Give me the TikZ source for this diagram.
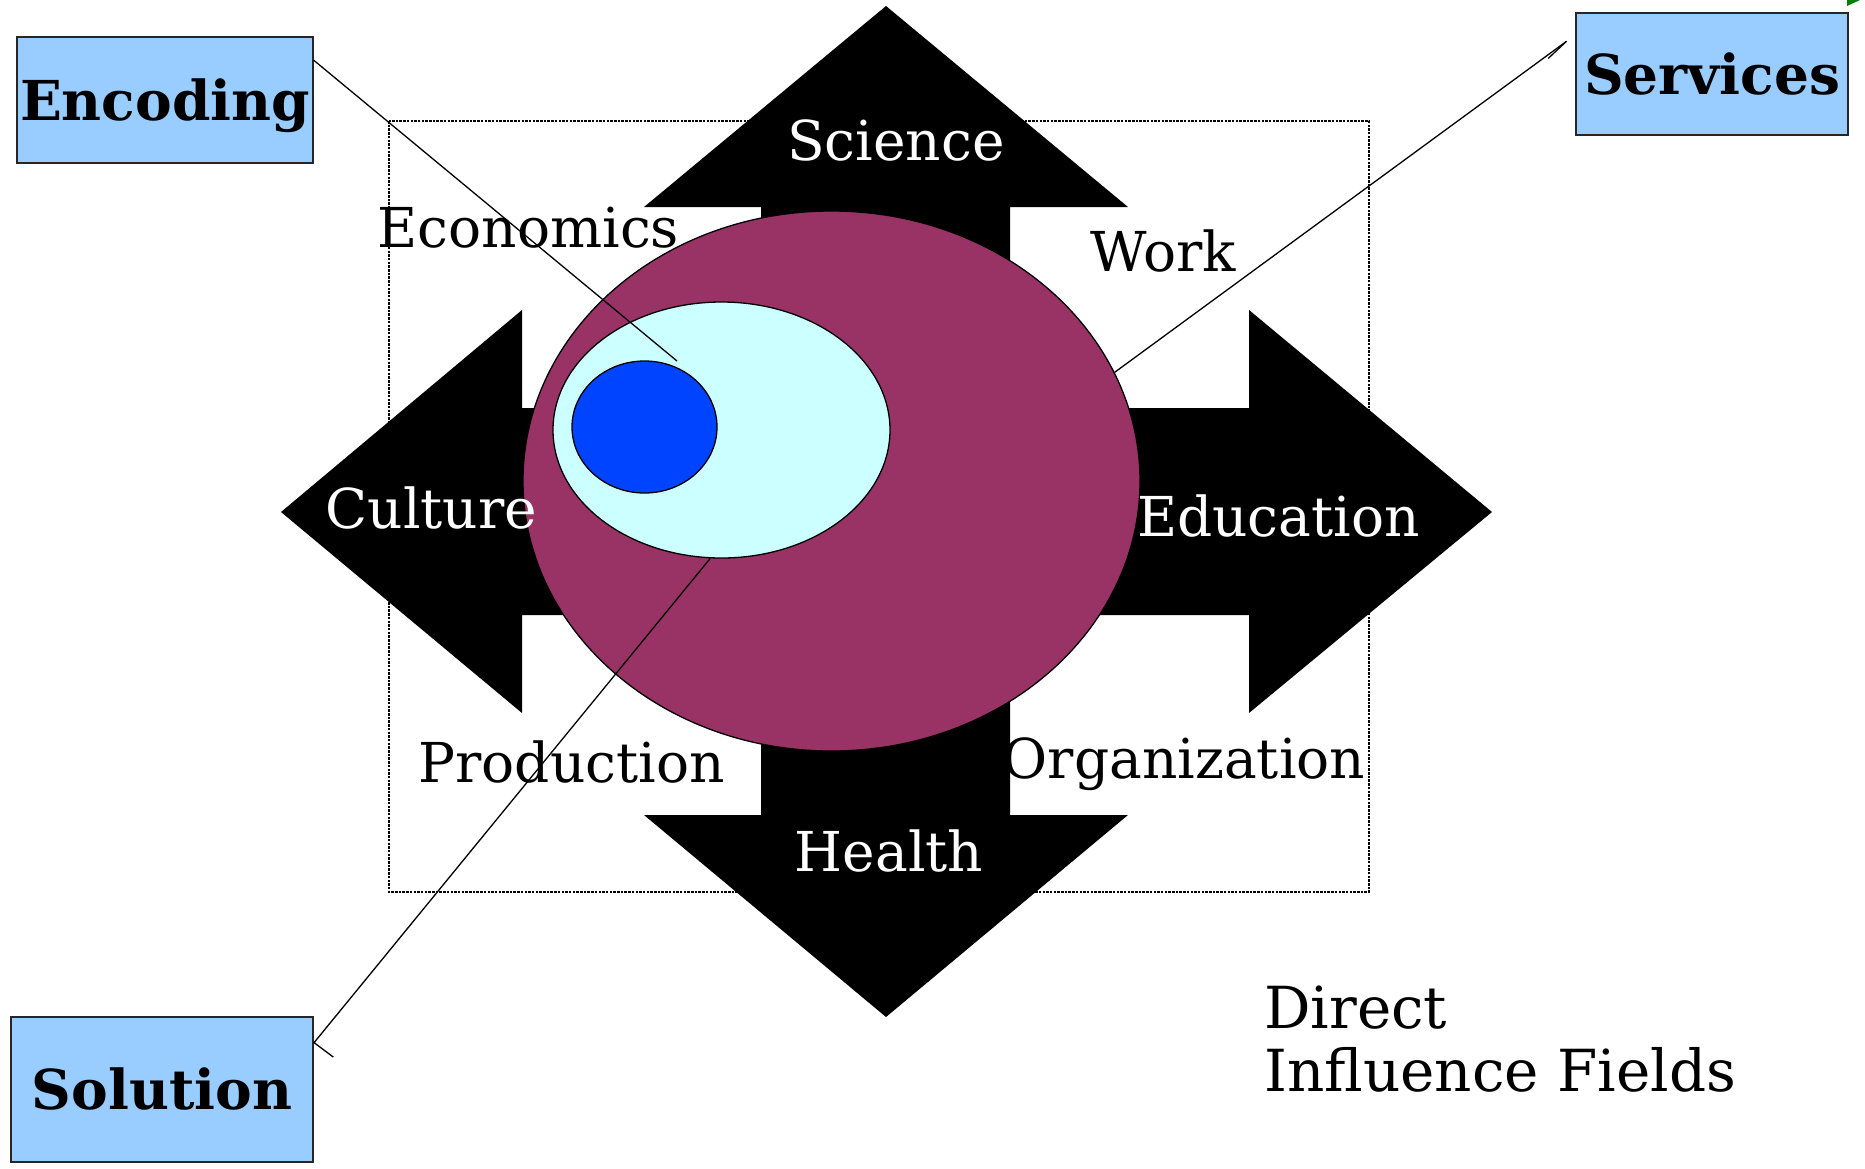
\documentclass[tikz,border=0pt]{standalone}
\usepackage{fontspec}
\setmainfont{DejaVu Serif}
\usetikzlibrary{shapes.geometric}
\usetikzlibrary{arrows.meta}
\definecolor{fieldred}{RGB}{153,51,102}
\definecolor{solcyan}{RGB}{204,255,255}
\definecolor{coreblue}{RGB}{0,68,255}
\definecolor{boxblue}{RGB}{153,204,255}
\definecolor{markgreen}{RGB}{0,128,0}

\tikzset{
    fieldlabel/.style={font=\fontsize{55}{63}\selectfont, inner sep=0pt, anchor=base},
    tagbox/.style={draw=black!85, line width=1.3pt, fill=boxblue, inner sep=0pt,
        font=\bfseries\fontsize{55}{63}\selectfont, text height=40pt, text depth=0pt},
    blob/.style={ellipse, draw, line width=1.3pt, inner sep=0pt},
    link/.style={line width=1.3pt},
}

\begin{document}
\begin{tikzpicture}[x=1pt, y=-1pt]
    \useasboundingbox (0,0) rectangle (1865,1168);

    % frame of the fields
    \draw[line width=1.6pt, dash pattern=on 2.5pt off 1.2pt] (389,121) rectangle (1369,892);

    % four way arrow
    \fill[black] (886,6) -- (1128,207) -- (1010,207) -- (1010,408) -- (1249,408) -- (1249,310)
        -- (1492,512) -- (1249,713) -- (1249,615) -- (1010,615) -- (1010,815) -- (1128,815)
        -- (886,1017) -- (644,815) -- (761,815) -- (761,615) -- (522,615) -- (522,713)
        -- (281,512) -- (522,310) -- (522,408) -- (761,408) -- (761,207) -- (644,207) -- cycle;

    \node[blob, fill=fieldred, minimum width=617pt, minimum height=540pt] (fields) at (831.5,481) {};
    \node[blob, fill=solcyan, minimum width=337pt, minimum height=256pt] (solarea) at (721.5,430) {};
    \node[blob, fill=coreblue, minimum width=145pt, minimum height=132pt] (core) at (644.5,427) {};

    % boxes
    \node[tagbox, minimum width=296pt, minimum height=126pt] (enc) at (165,100) {Encoding};
    \node[tagbox, minimum width=272pt, minimum height=122pt] (serv) at (1712,74) {Services};
    \node[tagbox, minimum width=302pt, minimum height=145pt] (sol) at (162,1089.5) {Solution};

    \coordinate (encpoint) at (677,361);
    \draw[link] (enc.15.5) -- (encpoint);
    \draw[link, -{Straight Barb[harpoon, swap, length=25pt, width=6pt]}] (fields.21) -- (serv.164.8);
    \draw[link, -{Straight Barb[harpoon, length=1pt, width=48pt]}] (solarea.265) -- (sol.17.5);

    \fill[markgreen] (1847,0) -- (1847,6) -- (1860,0) -- cycle;

    % labels
    \node[fieldlabel, white] (science) at (896,160) {Science};
    \node[fieldlabel, white] (health) at (889,871) {Health};
    \node[fieldlabel, white] (culture) at (431.5,528) {Culture};
    \node[fieldlabel, white] (education) at (1278.5,536) {Education};
    \node[fieldlabel] (economics) at (528.5,247) {Economics};
    \node[fieldlabel] (work) at (1163,271) {Work};
    \node[fieldlabel] (production) at (571.5,782) {Production};
    \node[fieldlabel] (organization) at (1184,778) {Organization};
    \node[fieldlabel, font=\fontsize{58}{63}\selectfont, anchor=base west, align=left] (title)
        at (1264,1091) {Direct\\Influence Fields};
\end{tikzpicture}
\end{document}
